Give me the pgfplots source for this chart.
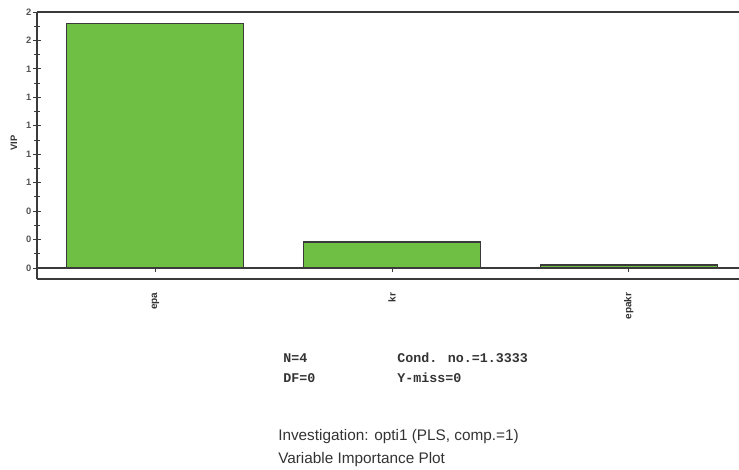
\documentclass[border=0pt]{standalone}
\usepackage{pgfplots}
\pgfplotsset{compat=1.18}
\usepackage{fontspec}
\setmainfont{Liberation Sans}
\newfontfamily\monofont{Liberation Mono}
\definecolor{bargreen}{HTML}{6FBF44}
\definecolor{edge}{HTML}{3A3A3A}
\definecolor{txt}{HTML}{333333}
\begin{document}
\begin{tikzpicture}
\useasboundingbox (0,0) rectangle (554.25pt,351.75pt);
\begin{axis}[
  at={(27.75pt,142.5pt)}, anchor=south west,
  scale only axis, width=526.5pt, height=200.25pt,
  xmin=-0.5, xmax=2.466, ymin=-0.0774, ymax=1.8,
  axis x line*=bottom, axis y line*=left,
  axis line style={edge, line width=0.8pt},
  xtick={0,1,2}, xticklabels={epa,kr,epakr},
  x tick style={draw=none},
  xticklabel style={rotate=90, anchor=east, font=\fontsize{7.5}{8}\selectfont\bfseries, text=txt, inner sep=1pt},
  xticklabel shift=3pt,
  ytick={0,0.2,0.4,0.6,0.8,1.0,1.2,1.4,1.6,1.8},
  yticklabels={0,0,0,1,1,1,1,1,2,2},
  yticklabel style={font=\fontsize{7}{8}\selectfont\bfseries, text=txt!85!white, inner sep=1pt},
  minor y tick num=1,
  tick align=center,
  y tick style={edge, line width=0.6pt},
  major tick length=6pt, minor tick length=4pt,
  ybar, bar width=0.747,
  clip=false,
]
\addplot[fill=bargreen, draw=edge, line width=0.8pt] coordinates {(0,1.716) (1,0.183) (2,0.021)};
\draw[edge, line width=0.8pt] (rel axis cs:0,1) -- (rel axis cs:1,1);
\draw[edge, line width=0.8pt] (axis cs:-0.5,0) -- (axis cs:2.466,0);
\draw[edge, line width=0.6pt] (axis cs:0,0) -- ++(0pt,-3pt);
\draw[edge, line width=0.6pt] (axis cs:1,0) -- ++(0pt,-3pt);
\draw[edge, line width=0.6pt] (axis cs:2,0) -- ++(0pt,-3pt);
\end{axis}
\node[rotate=90, font=\fontsize{7}{8}\selectfont\bfseries, text=txt] at (10.5pt,244.5pt) {VIP};
\node[anchor=west, inner sep=0pt, font=\monofont\fontsize{10}{11}\selectfont\bfseries, text=txt] at (212.25pt,83.25pt) {N=4};
\node[anchor=west, inner sep=0pt, font=\monofont\fontsize{10}{11}\selectfont\bfseries, text=txt] at (297.75pt,83.25pt) {Cond. no.=1.3333};
\node[anchor=west, inner sep=0pt, font=\monofont\fontsize{10}{11}\selectfont\bfseries, text=txt] at (212.25pt,68.25pt) {DF=0};
\node[anchor=west, inner sep=0pt, font=\monofont\fontsize{10}{11}\selectfont\bfseries, text=txt] at (297.75pt,68.25pt) {Y-miss=0};
\node[anchor=west, inner sep=0pt, font=\fontsize{11.5}{12}\selectfont, text=txt] at (208.5pt,24pt) {Investigation: opti1 (PLS, comp.=1)};
\node[anchor=west, inner sep=0pt, font=\fontsize{11.5}{12}\selectfont, text=txt] at (208.5pt,6.75pt) {Variable Importance Plot};
\end{tikzpicture}
\end{document}
